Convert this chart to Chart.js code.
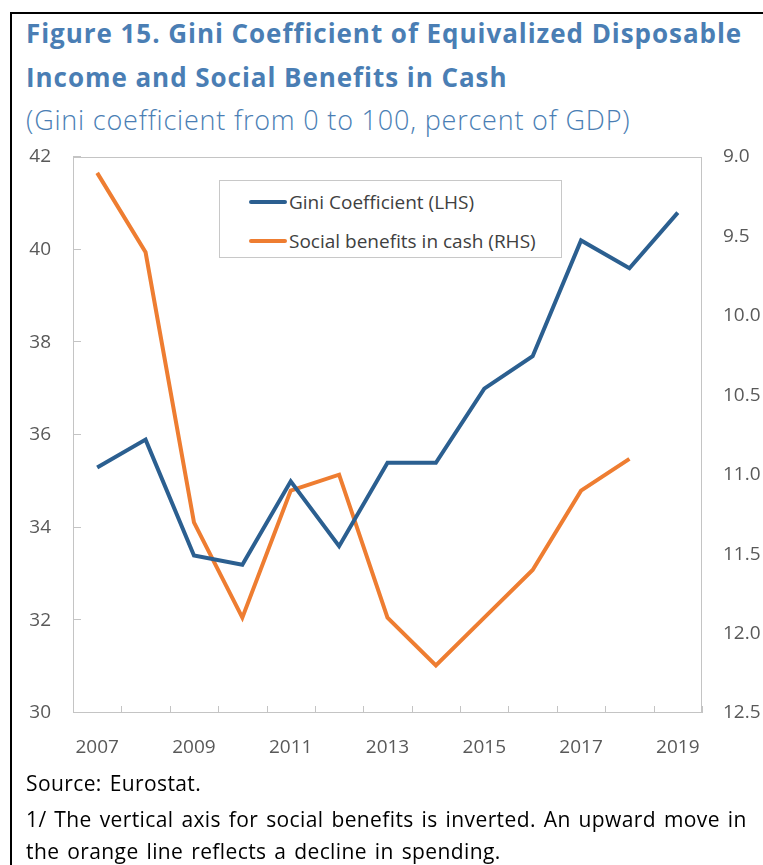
<!DOCTYPE html>
<html>
<head>
<meta charset="utf-8">
<title>Figure 15. Gini Coefficient and Social Benefits in Cash</title>
<script src="https://cdn.jsdelivr.net/npm/chart.js@4.4.0/dist/chart.umd.min.js"></script>
<style>
  html, body { margin: 0; padding: 0; background: #fff; }
  body { width: 763px; height: 865px; position: relative; overflow: hidden; font-family: 'Open Sans', sans-serif; }
  #frame { position: absolute; left: 10px; top: 12px; width: 800px; height: 900px; border: 2px solid #000; box-sizing: border-box; }
  .title { position: absolute; left: 26px; top: 11px; font-size: 26px; font-weight: 700; letter-spacing: 0.95px; line-height: 44px; color: #4a7eb4; white-space: nowrap; }
  .subtitle { position: absolute; left: 26px; top: 102px; font-size: 27px; font-weight: 300; letter-spacing: 0.8px; line-height: 36px; color: #4a7eb4; white-space: nowrap; }
  #chart-wrap { position: absolute; left: 0; top: 140px; width: 763px; height: 630px; }
  #legend { position: absolute; left: 219px; top: 180px; width: 343px; height: 78px; box-sizing: border-box; border: 1px solid #c8c8c8; background: #fff; }
  #legend .row { position: absolute; left: 29px; height: 26px; display: flex; align-items: center; font-size: 19px; color: #404040; white-space: nowrap; }
  #legend .swatch { width: 38px; height: 4px; margin-right: 2px; border-radius: 2px; }
  .notes { position: absolute; left: 26px; top: 766px; font-size: 21px; letter-spacing: 0.4px; word-spacing: 2px; line-height: 35px; color: #000; white-space: nowrap; }
  .notes p { margin: 0; }
  .notes p + p { line-height: 32px; margin-top: 1.5px; }
</style>
</head>
<body>
<div id="frame"></div>
<div class="title">Figure 15. Gini Coefficient of Equivalized Disposable<br>Income and Social Benefits in Cash</div>
<div class="subtitle">(Gini coefficient from 0 to 100, percent of GDP)</div>
<div id="chart-wrap"><canvas id="gini-chart"></canvas></div>
<div id="legend"></div>
<div class="notes">
  <p>Source: Eurostat.</p>
  <p>1/ The vertical axis for social benefits is inverted. An upward move in<br>the orange line reflects a decline in spending.</p>
</div>
<script>
  // Years on the x axis (a label is shown for every other year)
  const years = ['2007', '2008', '2009', '2010', '2011', '2012', '2013',
                 '2014', '2015', '2016', '2017', '2018', '2019'];
  // Gini coefficient, 0 to 100 (left axis)
  const giniValues = [35.3, 35.9, 33.4, 33.2, 35.0, 33.6, 35.4,
                      35.4, 37.0, 37.7, 40.2, 39.6, 40.8];
  // Social benefits in cash, percent of GDP (right axis, inverted); no 2019 value
  const benefitValues = [9.1, 9.6, 11.3, 11.9, 11.1, 11.0, 11.9,
                         12.2, 11.9, 11.6, 11.1, 10.9, null];
  // Axis ranges
  const leftAxis = { min: 30, max: 42, step: 2 };
  const rightAxis = { min: 9.0, max: 12.5, step: 0.5 };

  const seriesNames = ['Gini Coefficient (LHS)', 'Social benefits in cash (RHS)'];
  const seriesColors = ['#2b5f90', '#ee7d31'];

  const AXIS_GREY = '#c4c4c4';
  const TEXT_GREY = '#595959';

  // Draws the plot box and the inward tick marks on the left and bottom axes
  const frameAndTicks = {
    id: 'frameAndTicks',
    beforeDatasetsDraw(chart) {
      const { ctx, chartArea: a, scales } = chart;
      ctx.save();
      ctx.strokeStyle = AXIS_GREY;
      ctx.lineWidth = 1;
      ctx.strokeRect(Math.round(a.left) + 0.5, Math.round(a.top) + 0.5,
                     Math.round(a.right - a.left) - 1, Math.round(a.bottom - a.top) - 1);
      ctx.beginPath();
      // left axis ticks, pointing into the plot
      scales.y.ticks.forEach((t, i) => {
        const py = Math.round(scales.y.getPixelForTick(i)) - 0.5;
        ctx.moveTo(a.left, py);
        ctx.lineTo(a.left + 8, py);
      });
      // bottom axis ticks at the category boundaries
      const x = scales.x;
      const half = (x.getPixelForTick(1) - x.getPixelForTick(0)) / 2;
      for (let i = 0; i <= years.length; i++) {
        const px = Math.round(x.getPixelForTick(Math.min(i, years.length - 1)) + (i === years.length ? half : -half)) + 0.5;
        ctx.moveTo(px, a.bottom);
        ctx.lineTo(px, a.bottom - 7);
      }
      ctx.stroke();
      ctx.restore();
    }
  };

  // Legend box built from the datasets
  function buildLegend(chart) {
    const box = document.getElementById('legend');
    chart.data.datasets.forEach((ds, i) => {
      const row = document.createElement('div');
      row.className = 'row';
      row.style.top = (8 + i * 39) + 'px';
      const sw = document.createElement('span');
      sw.className = 'swatch';
      sw.style.background = ds.borderColor;
      row.appendChild(sw);
      row.appendChild(document.createTextNode(ds.label));
      box.appendChild(row);
    });
  }

  // y scales: fixed width, and no extra top/bottom padding from tick padding
  function fixWidth(w) {
    return scale => {
      scale.width = w;
      scale.paddingTop = 0;
      scale.paddingBottom = 0;
    };
  }

  const tickFont = { family: "'Open Sans', sans-serif", size: 19 };

  const chart = new Chart(document.getElementById('gini-chart'), {
    type: 'line',
    data: {
      labels: years,
      datasets: [
        {
          label: seriesNames[0],
          data: giniValues,
          yAxisID: 'y',
          borderColor: seriesColors[0],
          backgroundColor: seriesColors[0],
          borderWidth: 4,
          pointRadius: 0,
          tension: 0
        },
        {
          label: seriesNames[1],
          data: benefitValues,
          yAxisID: 'y1',
          borderColor: seriesColors[1],
          backgroundColor: seriesColors[1],
          borderWidth: 4,
          pointRadius: 0,
          tension: 0
        }
      ]
    },
    options: {
      responsive: true,
      maintainAspectRatio: false,
      animation: false,
      devicePixelRatio: 1,
      layout: { padding: { top: 17, left: 0, right: 0, bottom: 0 } },
      plugins: {
        legend: { display: false },
        tooltip: { enabled: false }
      },
      scales: {
        x: {
          offset: true,
          grid: { display: false, drawTicks: false },
          border: { display: false },
          ticks: {
            autoSkip: false,
            maxRotation: 0,
            padding: 23,
            color: TEXT_GREY,
            font: tickFont,
            callback: (val, i) => (i % 2 === 0 ? years[i] : '')
          },
          afterFit: scale => { scale.height = 57; }
        },
        y: {
          position: 'left',
          min: leftAxis.min,
          max: leftAxis.max,
          grid: { display: false, drawTicks: false },
          border: { display: false },
          ticks: { stepSize: leftAxis.step, padding: 22, color: TEXT_GREY, font: tickFont },
          afterFit: fixWidth(73)
        },
        y1: {
          position: 'right',
          reverse: true,
          min: rightAxis.min,
          max: rightAxis.max,
          grid: { display: false, drawTicks: false },
          border: { display: false },
          ticks: {
            stepSize: rightAxis.step,
            padding: 21,
            color: TEXT_GREY,
            font: tickFont,
            callback: v => v.toFixed(1)
          },
          afterFit: fixWidth(61)
        }
      }
    },
    plugins: [frameAndTicks]
  });

  buildLegend(chart);
</script>
</body>
</html>
